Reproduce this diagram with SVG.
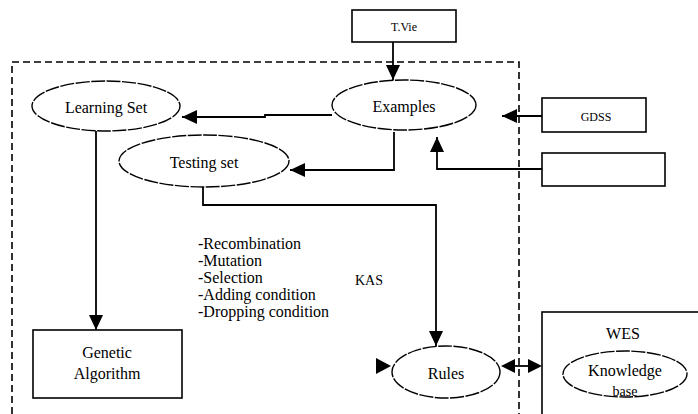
<svg xmlns="http://www.w3.org/2000/svg" width="698" height="414" viewBox="0 0 698 414">
<style>
.bg{fill:#fff}
.shape{fill:#fff;stroke:#000;stroke-width:1.6}
.dash{fill:none;stroke:#000;stroke-width:1.6;stroke-dasharray:7 4}
.ell{fill:#fff;stroke:#000;stroke-width:1.4;stroke-dasharray:14 1.5}
.conn{fill:none;stroke:#000;stroke-width:1.8}
.head{fill:#000}
text{font-family:"Liberation Serif","Times New Roman",serif;font-size:16px;fill:#000}
.c{text-anchor:middle}
.s{font-size:12px}
</style>
<defs>
<marker id="ah" markerUnits="userSpaceOnUse" markerWidth="16" markerHeight="16" refX="15" refY="7" orient="auto">
<path d="M0,0 L15,7 L0,14 z" fill="#000"/>
</marker>
<clipPath id="kbclip"><ellipse cx="625" cy="374" rx="62" ry="23"/></clipPath>
</defs>
<rect class="bg" x="0" y="0" width="698" height="414"/>
<g id="kas-boundary">
<path class="dash" d="M12,414 V62 H519 V414"/>
<text x="355" y="285" style="font-size:14px">KAS</text>
</g>
<g id="tvie">
<rect class="shape" x="352" y="10" width="104" height="32"/>
<text x="404" y="31" class="c s">T.Vie</text>
</g>
<g id="gdss">
<rect class="shape" x="542" y="98" width="104" height="34"/>
<text x="596" y="121" class="c s">GDSS</text>
</g>
<g id="empty-box">
<rect class="shape" x="542" y="153" width="123" height="33"/>
</g>
<g id="examples">
<ellipse class="ell" cx="404" cy="105" rx="72" ry="25"/>
<text x="404" y="112" class="c">Examples</text>
</g>
<g id="learning-set">
<ellipse class="ell" cx="106" cy="106" rx="74" ry="25"/>
<text x="106" y="113" class="c">Learning Set</text>
</g>
<g id="testing-set">
<ellipse class="ell" cx="204" cy="161" rx="85" ry="26"/>
<text x="204" y="168" class="c">Testing set</text>
</g>
<g id="operators">
<text x="198" y="249">-Recombination</text>
<text x="198" y="266">-Mutation</text>
<text x="198" y="283">-Selection</text>
<text x="198" y="300">-Adding condition</text>
<text x="198" y="317">-Dropping condition</text>
</g>
<g id="genetic-algorithm">
<rect class="shape" x="33" y="330" width="149" height="68"/>
<text x="107" y="358" class="c">Genetic</text>
<text x="107" y="379" class="c">Algorithm</text>
</g>
<g id="rules">
<ellipse class="ell" cx="446" cy="372" rx="54" ry="26"/>
<text x="446" y="379" class="c">Rules</text>
</g>
<g id="wes">
<rect class="shape" x="542" y="312" width="170" height="120"/>
<text x="623" y="339" class="c">WES</text>
<ellipse class="ell" cx="625" cy="374" rx="62" ry="23"/>
<text x="625" y="376" class="c">Knowledge</text>
<text x="625" y="396" class="c" clip-path="url(#kbclip)" style="font-size:14px">base</text>
</g>
<g id="connectors">
<path class="conn" d="M393,42 V80" marker-end="url(#ah)"/>
<path class="conn" d="M332,115 H265 V117 H182" marker-end="url(#ah)"/>
<path class="conn" d="M394,132 V170 H290" marker-end="url(#ah)"/>
<path class="conn" d="M542,116 H502" marker-end="url(#ah)"/>
<path class="conn" d="M542,169 H437 V137" marker-end="url(#ah)"/>
<path class="conn" d="M96,131 V330" marker-end="url(#ah)"/>
<path class="conn" d="M203,187 V205 H436 V346" marker-end="url(#ah)"/>
<path class="conn" d="M508,366 H535"/>
<polygon class="head" points="501,366 515,359 515,373"/>
<polygon class="head" points="542,366 528,359 528,373"/>
<polygon class="head" points="376,358 391,366 376,374"/>
</g>
</svg>
